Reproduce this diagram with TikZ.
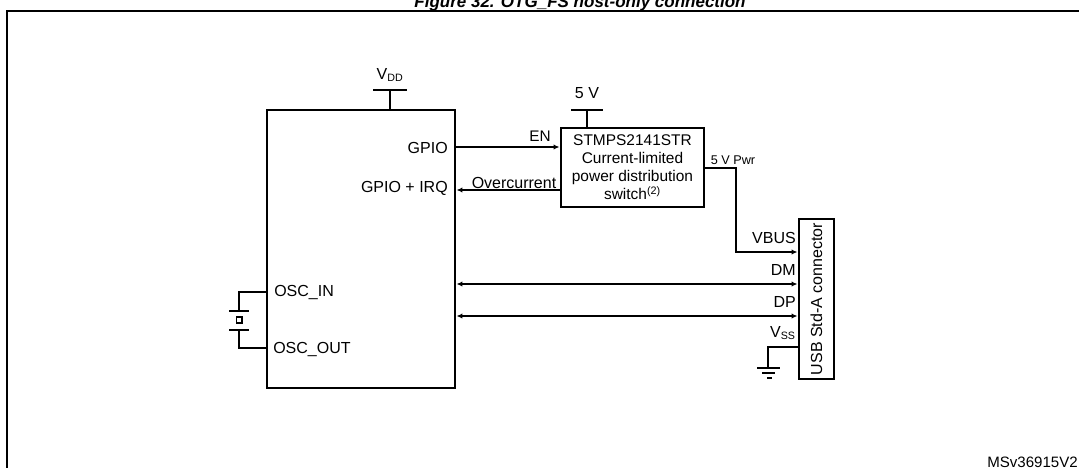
\documentclass[tikz,border=0pt]{standalone}
\usepackage{fontspec}
\setmainfont{Liberation Sans}
\usetikzlibrary{arrows.meta}
\begin{document}
\begin{tikzpicture}[x=0.75pt,y=-0.75pt,
  wire/.style={line width=1pt},
  box/.style={draw, line width=2.2pt, inner sep=0pt},
  lbl/.style={inner sep=0pt, font=\fontsize{12}{14}\selectfont},
  small/.style={inner sep=0pt, font=\fontsize{9.5}{11}\selectfont},
  tip/.style={-{Latex[length=4.5pt,width=4pt]}},
  dtip/.style={{Latex[length=4.5pt,width=4pt]}-{Latex[length=4.5pt,width=4pt]}}]
\useasboundingbox (0,0) rectangle (1079,468);
\clip (0,0) rectangle (1079,468);
% title and frame
\node[inner sep=0pt, anchor=base, font=\fontsize{12.75}{15}\selectfont\bfseries\itshape] (title) at (580,7) {Figure 32. OTG\_FS host-only connection};
\draw[line width=1.6pt] (7,490) -- (7,11) -- (1095,11) -- (1095,490);
% boxes
\node[box, minimum width=141pt, minimum height=208.5pt] (mcu) at (361,249) {};
\node[box, minimum width=107.25pt, minimum height=59.25pt, align=center, font=\fontsize{11.6}{13.5}\selectfont] (sw) at (632.5,167.5) {STMPS2141STR\\Current-limited\\power distribution\\switch\textsuperscript{(2)}};
\node[box, minimum width=26.25pt, minimum height=120pt] (usb) at (816.5,299) {};
\node[lbl, rotate=90] (usbtxt) at (usb.center) {USB Std-A connector};
% level helpers
\coordinate (yen) at (0,147);
\coordinate (yoc) at (0,190);
\coordinate (ypwr) at (0,168);
\coordinate (yvbus) at (0,252);
\coordinate (ydm) at (0,284);
\coordinate (ydp) at (0,316);
\coordinate (yvss) at (0,347);
\coordinate (yin) at (0,292);
\coordinate (yout) at (0,348);
% supplies
\coordinate (vddtop) at (390,90);
\draw[wire] (mcu.north -| vddtop) -- (vddtop);
\draw[wire] ([xshift=-12.5]vddtop) -- ([xshift=12.5]vddtop);
\node[lbl] (vdd) at (390,75) {V\textsubscript{DD}};
\coordinate (fivetop) at (587,110);
\draw[wire] (sw.north -| fivetop) -- (fivetop);
\draw[wire] ([xshift=-12]fivetop) -- ([xshift=12]fivetop);
\node[lbl] (fivev) at (587,93) {5 V};
% MCU labels
\node[lbl, anchor=east] (lgpio) at (448,148) {GPIO};
\node[lbl, anchor=east] (lirq) at (448,188) {GPIO + IRQ};
\node[lbl, anchor=west] (lin) at (274,292) {OSC\_IN};
\node[lbl, anchor=west] (lout) at (273,349) {OSC\_OUT};
% EN / Overcurrent
\draw[wire,tip] (mcu.east |- yen) -- (sw.west |- yen);
\node[lbl, font=\fontsize{11.5}{13}\selectfont] (len) at (540,136) {EN};
\draw[wire,tip] (sw.west |- yoc) -- (mcu.east |- yoc);
\node[lbl] (loc) at (514,183) {Overcurrent};
% 5V Pwr to VBUS
\coordinate (pwrc) at (736,168);
\draw[wire,tip] (sw.east |- ypwr) -- (pwrc) -- (pwrc |- yvbus) -- (usb.west |- yvbus);
\node[small] (lpwr) at (733,160) {5 V Pwr};
% DM / DP
\draw[wire,dtip] (mcu.east |- ydm) -- (usb.west |- ydm);
\draw[wire,dtip] (mcu.east |- ydp) -- (usb.west |- ydp);
% connector labels
\node[lbl, anchor=east] (lvbus) at (796,238) {VBUS};
\node[lbl, anchor=east] (ldm) at (796,270) {DM};
\node[lbl, anchor=east] (ldp) at (796,302) {DP};
\node[lbl, anchor=east] (lvss) at (796,333) {V\textsubscript{SS}};
% ground
\coordinate (gnd) at (768,368);
\draw[wire] (usb.west |- yvss) -- (gnd |- yvss) -- (gnd);
\draw[wire] (757,368) -- (780,368);
\draw[wire] (762,373) -- (775,373);
\draw[wire] (767,378) -- (772,378);
% crystal
\coordinate (xa) at (239,311);
\coordinate (xb) at (239,330);
\draw[wire] (mcu.west |- yin) -- (xa |- yin) -- (xa);
\draw[wire] (229,311) -- (249,311);
\draw[wire] (236.5,317) rectangle (242,323);
\draw[wire] (229,330) -- (249,330);
\draw[wire] (xb) -- (xb |- yout) -- (mcu.west |- yout);
% doc code
\node[inner sep=0pt, anchor=west, font=\fontsize{11.3}{13}\selectfont] (code) at (987,462) {MSv36915V2};
\end{tikzpicture}
\end{document}
